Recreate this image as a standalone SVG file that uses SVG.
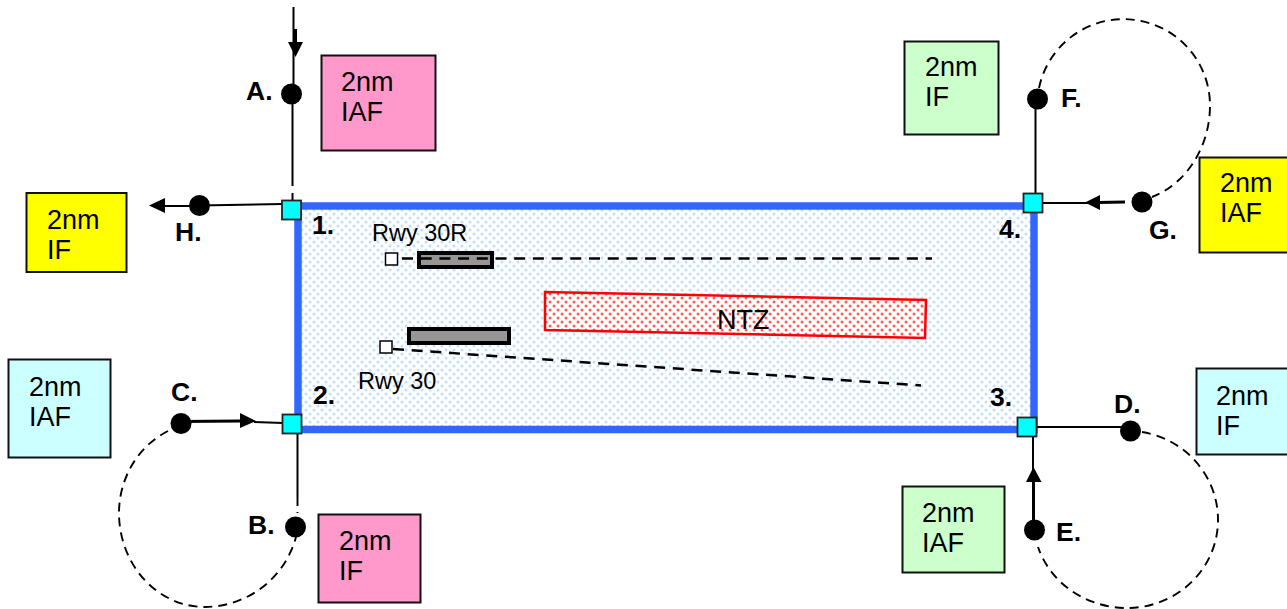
<svg xmlns="http://www.w3.org/2000/svg" width="1287" height="609" viewBox="0 0 1287 609">
<style>
text{font-family:"Liberation Sans",Arial,sans-serif;fill:#000}
.t{font-size:27px}
.s{font-size:23.500px}
.b{font-size:26.500px;font-weight:bold}
.box{stroke:#111;stroke-width:2}
.thin{fill:none;stroke:#000;stroke-width:2}
.thick{fill:none;stroke:#000;stroke-width:3}
.dash{fill:none;stroke:#000;stroke-width:1.900;stroke-dasharray:9 6}
.rd{fill:none;stroke:#000;stroke-width:2.500;stroke-dasharray:11 7.700}
.sq{fill:#0ff;stroke:#222;stroke-width:1.800}
.fix{fill:#000}
.ap{fill:#fff;stroke:#000;stroke-width:1.500}
.rw{fill:#969696;stroke:#000;stroke-width:4}
</style>
<defs>
<pattern id="blue" width="8" height="8" patternUnits="userSpaceOnUse">
<rect width="8" height="8" fill="#fff"/>
<circle cx="2" cy="2" r="1.500" fill="#bfdeff"/>
<circle cx="6" cy="6" r="1.500" fill="#bfdeff"/>
</pattern>
<pattern id="red" width="8" height="8" patternUnits="userSpaceOnUse">
<rect width="8" height="8" fill="#fff"/>
<circle cx="2" cy="2" r="1.500" fill="#ff5a5a"/>
<circle cx="6" cy="6" r="1.500" fill="#ff5a5a"/>
</pattern>
</defs>
<rect width="1287" height="609" fill="#fff"/>
<g id="area"><rect x="298" y="206" width="736" height="223.500" fill="url(#blue)" stroke="#3366ff" stroke-width="7.500"/></g>
<g id="ntz"><polygon points="545,292 926,300 925,338 545,330" fill="url(#red)" stroke="#f00" stroke-width="2.500"/><text class="t" x="717" y="329">NTZ</text></g>
<g id="rwy30r"><rect x="419" y="253" width="73" height="14" class="rw"/><rect x="385.500" y="253" width="12" height="12" class="ap"/><text class="s" x="372" y="241">Rwy 30R</text></g>
<g id="rwy30"><rect x="409" y="329" width="100" height="14" class="rw"/><rect x="380" y="341" width="12" height="12" class="ap"/><text class="s" x="358" y="389">Rwy 30</text></g>
<g id="connectors">
<path class="rd" d="M402,258.500 H932"/>
<path class="rd" d="M393,349 L921,385.500"/>
<path class="thin" d="M293.500,7 V85"/>
<path class="thick" d="M295.500,29 V44"/>
<polygon class="fix" points="288,42 303,42 295.500,57"/>
<path class="thin" d="M292.500,104 V186 M292.500,193 V201"/>
<path class="thin" d="M199,205.500 L283,204"/>
<polygon class="fix" points="149,205.500 165,198 165,213"/>
<path class="thin" d="M165,206 H199"/>
<path class="thick" d="M181,421.500 L240,421"/>
<polygon class="fix" points="240,413 240,428 256,421"/>
<path class="thin" d="M254,422 L283,423"/>
<path class="thin" d="M297.500,434 V497"/>
<path class="dash" d="M297.500,497 V513"/>
<path class="dash" d="M168,431 A86,91 0 0 0 119,513 A86,94 0 0 0 205,607 A95,94 0 0 0 296,537"/>
<path class="thin" d="M1037,427 H1122"/>
<path class="thin" d="M1033,437 V470"/>
<path class="thick" d="M1033.500,480 V522"/>
<polygon class="fix" points="1033.500,467 1026,482 1041.500,482"/>
<path class="dash" d="M1142,432 A91,89 0 0 1 1218,520 A91,88 0 0 1 1127,608 A93.500,88 0 0 1 1038,547"/>
<path class="thin" d="M1035.500,108 V193"/>
<path class="thin" d="M1042,203 H1088"/>
<polygon class="fix" points="1085,202.500 1100,195 1100,210"/>
<path class="thick" d="M1098,202.500 L1125,202"/>
<path class="dash" d="M1039,88 A86.400,86.400 0 0 1 1210,105.300 A86.400,97 0 0 1 1152,197"/>
</g>
<g id="squares">
<rect class="sq" x="282" y="200.500" width="19" height="19"/>
<rect class="sq" x="282.500" y="414.500" width="19" height="19"/>
<rect class="sq" x="1017.500" y="417.500" width="19" height="19"/>
<rect class="sq" x="1023.500" y="193.500" width="19" height="19"/>
</g>
<g id="A"><circle cx="291.500" cy="94" r="10.500"/><text class="b" x="246" y="100">A.</text></g>
<g id="B"><circle cx="295.500" cy="527" r="10.500"/><text class="b" x="248" y="534">B.</text></g>
<g id="C"><circle cx="181" cy="423.500" r="10.500"/><text class="b" x="171" y="401">C.</text></g>
<g id="D"><circle cx="1130.500" cy="431" r="10.500"/><text class="b" x="1114" y="413">D.</text></g>
<g id="E"><circle cx="1034.500" cy="530" r="10.500"/><text class="b" x="1056" y="541">E.</text></g>
<g id="F"><circle cx="1037.500" cy="99" r="10.500"/><text class="b" x="1061" y="107">F.</text></g>
<g id="G"><circle cx="1142" cy="202" r="10.500"/><text class="b" x="1149" y="239">G.</text></g>
<g id="H"><circle cx="199.500" cy="205.500" r="10.500"/><text class="b" x="175" y="241">H.</text></g>
<g id="l1"><text class="b" x="312" y="234">1.</text></g>
<g id="l2"><text class="b" x="313" y="404">2.</text></g>
<g id="l3"><text class="b" x="990" y="406">3.</text></g>
<g id="l4"><text class="b" x="999" y="238">4.</text></g>
<g id="n-a"><rect class="box" x="321.500" y="55.500" width="114" height="95" fill="#ff99cc"/><text class="t" x="341" y="91">2nm</text><text class="t" x="341" y="121">IAF</text></g>
<g id="n-f"><rect class="box" x="904.500" y="41.500" width="94" height="93" fill="#ccffcc"/><text class="t" x="925" y="76">2nm</text><text class="t" x="925" y="106">IF</text></g>
<g id="n-h"><rect class="box" x="26.500" y="193" width="100" height="79" fill="#ffff00"/><text class="t" x="47" y="229">2nm</text><text class="t" x="47" y="259">IF</text></g>
<g id="n-g"><rect class="box" x="1199.500" y="157.500" width="94" height="95" fill="#ffff00"/><text class="t" x="1220" y="192">2nm</text><text class="t" x="1220" y="222">IAF</text></g>
<g id="n-c"><rect class="box" x="8.500" y="359.500" width="102" height="98" fill="#ccffff"/><text class="t" x="29" y="396">2nm</text><text class="t" x="29" y="426">IAF</text></g>
<g id="n-d"><rect class="box" x="1196.500" y="368.500" width="96" height="86" fill="#ccffff"/><text class="t" x="1216" y="405">2nm</text><text class="t" x="1216" y="435">IF</text></g>
<g id="n-b"><rect class="box" x="318.500" y="514.500" width="102" height="88" fill="#ff99cc"/><text class="t" x="339" y="550">2nm</text><text class="t" x="339" y="580">IF</text></g>
<g id="n-e"><rect class="box" x="902.500" y="486.500" width="102" height="86" fill="#ccffcc"/><text class="t" x="922" y="522">2nm</text><text class="t" x="922" y="552">IAF</text></g>
</svg>
